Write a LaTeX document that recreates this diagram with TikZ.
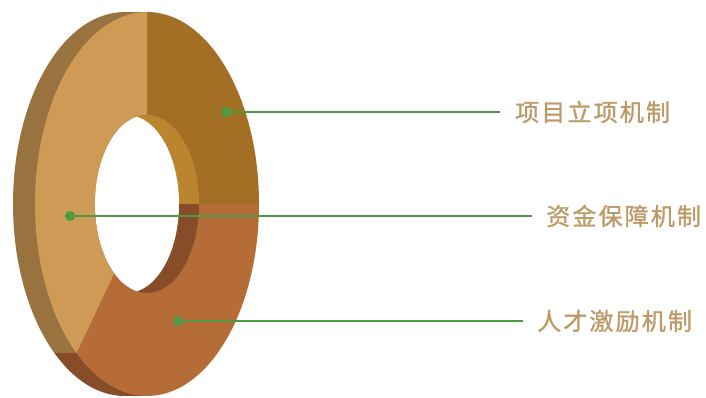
\documentclass[tikz,border=0pt]{standalone}
\usepackage{fontspec}
\newfontfamily\cjk[LetterSpace=9,FakeBold=1.2]{Noto Sans CJK SC}
\usetikzlibrary{calc}
\definecolor{segA}{HTML}{A26F24}
\definecolor{segB}{HTML}{B66C36}
\definecolor{segC}{HTML}{CF9A56}
\definecolor{sideC}{HTML}{987340}
\definecolor{sideB}{HTML}{874D28}
\definecolor{wallA}{HTML}{BB842F}
\definecolor{leader}{HTML}{4E9A44}
\definecolor{labtext}{HTML}{BD9A68}
\tikzset{
  leadline/.style={draw=leader, line width=1.4pt},
  leaddot/.style={circle, fill=leader, minimum size=10pt, inner sep=0pt},
  lab/.style={anchor=west, inner sep=0pt, text=labtext, font=\cjk\fontsize{24pt}{24pt}\selectfont}
}
\begin{document}
\begin{tikzpicture}[x=1pt,y=1pt]
\useasboundingbox (0,0) rectangle (706,397);
% centres
\coordinate (F) at (147,193);   % front face centre
\coordinate (B) at (125,193);   % back face outer centre
\coordinate (Bi) at (127,193);  % back face inner centre
\def\sy{43.8}
% outer side (extrusion)
\begin{scope}
  \clip (0,\sy) rectangle (706,397);
  \fill[sideC] (B) ellipse[x radius=112pt, y radius=192pt];
  \fill[sideC] (125,1) rectangle (147,385);
\end{scope}
\begin{scope}
  \clip (0,0) rectangle (706,\sy);
  \fill[sideB] (B) ellipse[x radius=112pt, y radius=192pt];
  \fill[sideB] (125,1) rectangle (147,385);
\end{scope}
% front face segments
\fill[segA] ($(F)+(90:112pt and 192pt)$) arc[start angle=90, end angle=0, x radius=112pt, y radius=192pt]
  -- ($(F)+(0:52pt and 89pt)$) arc[start angle=0, end angle=90, x radius=52pt, y radius=89pt] -- cycle;
\fill[segB] ($(F)+(0:112pt and 192pt)$) arc[start angle=0, end angle=-129, x radius=112pt, y radius=192pt]
  -- ($(F)+(-129:52pt and 89pt)$) arc[start angle=-129, end angle=0, x radius=52pt, y radius=89pt] -- cycle;
\fill[segC] ($(F)+(231:112pt and 192pt)$) arc[start angle=231, end angle=90, x radius=112pt, y radius=192pt]
  -- ($(F)+(90:52pt and 89pt)$) arc[start angle=90, end angle=231, x radius=52pt, y radius=89pt] -- cycle;
% hole and inner wall
\begin{scope}
  \clip (F) ellipse[x radius=52pt, y radius=89pt];
  \fill[wallA] (0,193) rectangle (706,397);
  \fill[sideB] (0,0) rectangle (706,193);
  \fill[white] (Bi) ellipse[x radius=52pt, y radius=89pt];
\end{scope}
% leaders
\coordinate (d1) at (226,285);
\coordinate (e1) at (500,285);
\coordinate (d2) at (70,181);
\coordinate (e2) at (532,181);
\coordinate (d3) at (178,76);
\coordinate (e3) at (523,76);
\draw[leadline] (d1) -- (e1);
\draw[leadline] (d2) -- (e2);
\draw[leadline] (d3) -- (e3);
\node[leaddot] (p1) at (d1) {};
\node[leaddot] (p2) at (d2) {};
\node[leaddot] (p3) at (d3) {};
\node[lab] (t1) at (515,285) {项目立项机制};
\node[lab] (t2) at (546,181) {资金保障机制};
\node[lab] (t3) at (537,76) {人才激励机制};
\end{tikzpicture}
\end{document}
